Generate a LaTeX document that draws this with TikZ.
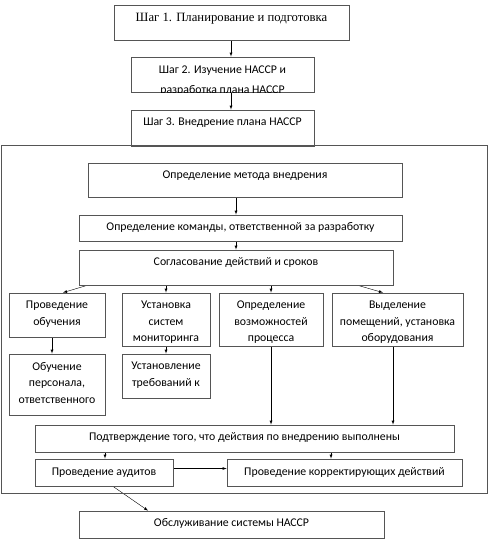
\documentclass[tikz,border=0pt]{standalone}
\usepackage{fontspec}
\setmainfont{Carlito}
\newfontfamily\serifbox{Liberation Serif}
\usepackage{tikz}
\definecolor{white}{rgb}{1.0, 1.0, 1.0}
\definecolor{black}{rgb}{0.0, 0.0, 0.0}
\definecolor{boxgray}{RGB}{85,85,85}
\pgfdeclarelayer{edgelayer}
\pgfdeclarelayer{nodelayer}
\pgfsetlayers{edgelayer,nodelayer,main}
\tikzstyle{box}=[rectangle,draw=boxgray,thick,inner sep=0pt]
\tikzstyle{boxtext}=[inner sep=0pt,anchor=north,align=center,font=\fontsize{11.8}{16.5}\selectfont]
\tikzstyle{link}=[-latex,black]

\begin{document}
\begin{tikzpicture}[x=1pt,y=-1pt]
        \useasboundingbox (0,0) rectangle (491,543);
        \begin{pgfonlayer}{nodelayer}
            \node [style = box, minimum width=235pt, minimum height=35pt] (step1) at (231.5, 22.5) {};
            \node [style = box, minimum width=183pt, minimum height=35pt] (step2) at (222.5, 74.5) {};
            \node [style = box, minimum width=183pt, minimum height=36pt] (step3) at (222.5, 128) {};
            \node [style = box, minimum width=486pt, minimum height=348pt] (frame) at (244, 319) {};
            \node [style = box, minimum width=314pt, minimum height=34pt] (method) at (245, 180) {};
            \node [style = box, minimum width=323pt, minimum height=26pt] (team) at (240.5, 228) {};
            \node [style = box, minimum width=314pt, minimum height=35pt] (agree) at (236, 267.5) {};
            \node [style = box, minimum width=96pt, minimum height=44pt] (train) at (57, 315) {};
            \node [style = box, minimum width=88pt, minimum height=53pt] (monitor) at (166, 319.5) {};
            \node [style = box, minimum width=104pt, minimum height=53pt] (capab) at (271, 319.5) {};
            \node [style = box, minimum width=131pt, minimum height=53pt] (premises) at (397.5, 319.5) {};
            \node [style = box, minimum width=96pt, minimum height=61pt] (staff) at (57, 384.5) {};
            \node [style = box, minimum width=88pt, minimum height=44pt] (reqs) at (166, 376) {};
            \node [style = box, minimum width=419pt, minimum height=27pt] (confirm) at (244.5, 438.5) {};
            \node [style = box, minimum width=138pt, minimum height=27pt] (audit) at (104, 472.5) {};
            \node [style = box, minimum width=235pt, minimum height=27pt] (correct) at (344.5, 472.5) {};
            \node [style = box, minimum width=305pt, minimum height=27pt] (maint) at (231.5, 524.5) {};

            % texts
            \node [style = boxtext, font=\serifbox\fontsize{12.7}{15}\selectfont] (step1t) at ([yshift=-8pt]step1.north) {Шаг 1. Планирование и подготовка};
            \begin{scope}
                \clip (step2.south west) rectangle (step2.north east);
                \node [style = boxtext, font=\fontsize{11.8}{19.5}\selectfont] (step2t) at ([yshift=-9.5pt]step2.north) {Шаг 2. Изучение НАССР и\\разработка плана НАССР};
            \end{scope}
            \node [style = boxtext] (step3t) at ([yshift=-8pt]step3.north) {Шаг 3. Внедрение плана НАССР};
            \node [style = boxtext] (methodt) at ([yshift=-8.5pt]method.north) {Определение метода внедрения};
            \node [style = boxtext] (teamt) at ([yshift=-8pt]team.north) {Определение команды, ответственной за разработку};
            \node [style = boxtext] (agreet) at ([yshift=-7.5pt]agree.north) {Согласование действий и сроков};
            \node [style = boxtext] (traint) at ([yshift=-8.5pt]train.north) {Проведение\\обучения};
            \node [style = boxtext] (monitort) at ([yshift=-8.5pt]monitor.north) {Установка\\систем\\мониторинга};
            \node [style = boxtext] (capabt) at ([yshift=-8.5pt]capab.north) {Определение\\возможностей\\процесса};
            \node [style = boxtext] (premisest) at ([yshift=-8.5pt]premises.north) {Выделение\\помещений, установка\\оборудования};
            \node [style = boxtext] (stafft) at ([yshift=-8.5pt]staff.north) {Обучение\\персонала,\\ответственного};
            \node [style = boxtext] (reqst) at ([yshift=-8.5pt]reqs.north) {Установление\\требований к};
            \node [style = boxtext] (confirmt) at ([yshift=-7.5pt]confirm.north) {Подтверждение того, что действия по внедрению выполнены};
            \node [style = boxtext] (auditt) at ([yshift=-9pt]audit.north) {Проведение аудитов};
            \node [style = boxtext] (correctt) at ([yshift=-9pt]correct.north) {Проведение корректирующих действий};
            \node [style = boxtext] (maintt) at ([yshift=-7.5pt]maint.north) {Обслуживание системы НАССР};
        \end{pgfonlayer}

        \begin{pgfonlayer}{edgelayer}
            \draw [style = link] ([xshift=-0.5pt]step1.south) to ([xshift=8.5pt]step2.north);
            \draw [style = link] ([xshift=8.5pt]step2.south) to ([xshift=8.5pt]step3.north);
            \draw [style = link] ([xshift=-9pt]method.south) to ([xshift=-4.5pt]team.north);
            \draw [style = link] ([xshift=-4.5pt]team.south) to (agree.north);
            \draw [style = link] ([xshift=-149pt]agree.south) to ([xshift=6pt]train.north);
            \draw [style = link] ([xshift=-70pt]agree.south) to (monitor.north);
            \draw [style = link] ([xshift=35pt]agree.south) to (capab.north);
            \draw [style = link] ([xshift=122pt]agree.south) to ([xshift=-14.5pt]premises.north);
            \draw [style = link] ([xshift=-5pt]train.south) to ([xshift=-5pt]staff.north);
            \draw [style = link] (monitor.south) to (reqs.north);
            \draw [style = link] (capab.south) to ([xshift=26.5pt]confirm.north);
            \draw [style = link] ([xshift=-4.5pt]premises.south) to ([xshift=148.5pt]confirm.north);
            \draw [style = link] ([xshift=-139.5pt]confirm.south) to ([xshift=1pt]audit.north);
            \draw [style = link] ([xshift=86.5pt]confirm.south) to ([xshift=-13.5pt]correct.north);
            \draw [style = link] ([yshift=4pt]audit.east) to ([yshift=4pt]correct.west);
            \draw [style = link] ([xshift=9pt]audit.south) to ([xshift=-83.5pt]maint.north);
        \end{pgfonlayer}
    \end{tikzpicture}
\end{document}
